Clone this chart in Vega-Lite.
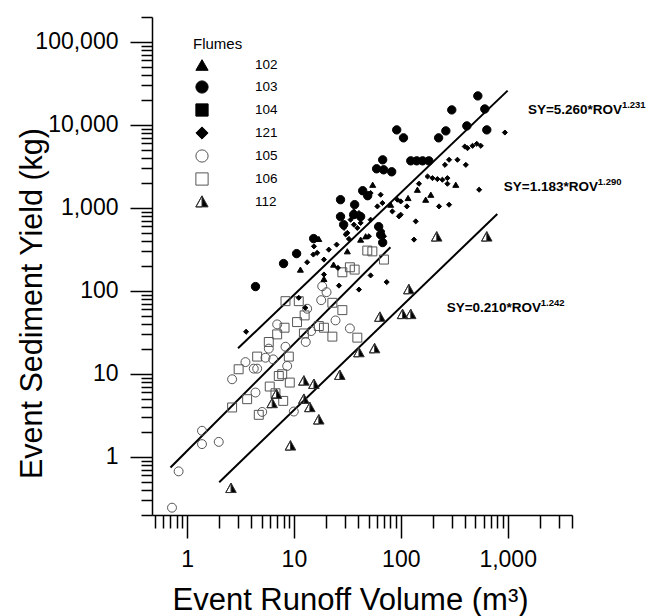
{
  "$schema": "https://vega.github.io/schema/vega-lite/v6.json",
  "width": 420,
  "height": 498,
  "autosize": {"type": "none"},
  "padding": {"left": 152, "top": 17, "right": 90, "bottom": 101},
  "background": "white",
  "config": {
    "view": {"stroke": null},
    "font": "Liberation Sans",
    "axis": {
      "grid": false,
      "domainColor": "black",
      "domainWidth": 1.5,
      "tickColor": "black",
      "tickWidth": 1.5,
      "labelFont": "Liberation Sans",
      "labelFontSize": 23,
      "labelColor": "black",
      "titleFont": "Liberation Sans",
      "titleFontSize": 30.5,
      "titleFontWeight": "normal",
      "titleColor": "black",
      "labelOverlap": false,
      "labelFlush": false,
      "labelBound": false
    },
    "legend": {
      "titleFont": "Liberation Sans", "titleFontSize": 15, "titleFontWeight": "normal", "titleColor": "black",
      "labelFont": "Liberation Sans", "labelFontSize": 13.5, "labelColor": "black",
      "symbolSize": 150, "symbolStrokeWidth": 1
    }
  },
  "resolve": {"axis": {"x": "independent", "y": "independent"}},
  "datasets": {
    "pts": [
      {"flume": "103", "x": 4.37, "y": 113}, {"flume": "103", "x": 8.0, "y": 214}, {"flume": "103", "x": 10.6, "y": 282},
      {"flume": "103", "x": 15.3, "y": 428}, {"flume": "103", "x": 27.3, "y": 787}, {"flume": "103", "x": 29.2, "y": 630},
      {"flume": "103", "x": 36.2, "y": 830}, {"flume": "103", "x": 42.1, "y": 787}, {"flume": "103", "x": 37.0, "y": 1097},
      {"flume": "103", "x": 27.3, "y": 1259}, {"flume": "103", "x": 44.0, "y": 1615}, {"flume": "103", "x": 49.0, "y": 1406},
      {"flume": "103", "x": 59.4, "y": 2966}, {"flume": "103", "x": 69.1, "y": 2884}, {"flume": "103", "x": 82.2, "y": 2729},
      {"flume": "103", "x": 67.7, "y": 3805}, {"flume": "103", "x": 124, "y": 3700}, {"flume": "103", "x": 141, "y": 3700},
      {"flume": "103", "x": 160, "y": 3700}, {"flume": "103", "x": 183, "y": 3700}, {"flume": "103", "x": 91.6, "y": 8730},
      {"flume": "103", "x": 106, "y": 7000}, {"flume": "103", "x": 226, "y": 7000}, {"flume": "103", "x": 264, "y": 8490},
      {"flume": "103", "x": 300, "y": 15200}, {"flume": "103", "x": 415, "y": 9750}, {"flume": "103", "x": 526, "y": 22400},
      {"flume": "103", "x": 611, "y": 15600}, {"flume": "103", "x": 638, "y": 8730}, {"flume": "103", "x": 62.1, "y": 596},
      {"flume": "103", "x": 64.8, "y": 477}, {"flume": "103", "x": 67.7, "y": 383},
      {"flume": "121", "x": 942, "y": 8110}, {"flume": "121", "x": 397, "y": 5500}, {"flume": "121", "x": 421, "y": 5260},
      {"flume": "121", "x": 469, "y": 5610}, {"flume": "121", "x": 514, "y": 5930}, {"flume": "121", "x": 561, "y": 5610},
      {"flume": "121", "x": 283, "y": 3810}, {"flume": "121", "x": 339, "y": 3810}, {"flume": "121", "x": 259, "y": 3310},
      {"flume": "121", "x": 406, "y": 3310}, {"flume": "121", "x": 178, "y": 2400}, {"flume": "121", "x": 198, "y": 2290},
      {"flume": "121", "x": 220, "y": 2230}, {"flume": "121", "x": 245, "y": 2190}, {"flume": "121", "x": 273, "y": 2290},
      {"flume": "121", "x": 273, "y": 1960}, {"flume": "121", "x": 148, "y": 1960}, {"flume": "121", "x": 541, "y": 1660},
      {"flume": "121", "x": 283, "y": 1096}, {"flume": "121", "x": 138, "y": 690}, {"flume": "121", "x": 133, "y": 416},
      {"flume": "121", "x": 92.9, "y": 1259}, {"flume": "121", "x": 99.8, "y": 1200}, {"flume": "121", "x": 83.4, "y": 910},
      {"flume": "121", "x": 99.8, "y": 830}, {"flume": "121", "x": 96.2, "y": 793}, {"flume": "121", "x": 114, "y": 1045},
      {"flume": "121", "x": 52.2, "y": 1514}, {"flume": "121", "x": 64.8, "y": 1445}, {"flume": "121", "x": 60.4, "y": 1045},
      {"flume": "121", "x": 67.3, "y": 1148}, {"flume": "121", "x": 40.6, "y": 871}, {"flume": "121", "x": 42.1, "y": 661},
      {"flume": "121", "x": 33.9, "y": 723}, {"flume": "121", "x": 36.4, "y": 630}, {"flume": "121", "x": 39.2, "y": 575},
      {"flume": "121", "x": 29.4, "y": 575}, {"flume": "121", "x": 31.6, "y": 501}, {"flume": "121", "x": 25.1, "y": 362},
      {"flume": "121", "x": 21.2, "y": 315}, {"flume": "121", "x": 19.1, "y": 239}, {"flume": "121", "x": 16.5, "y": 288},
      {"flume": "121", "x": 13.3, "y": 222}, {"flume": "121", "x": 62.5, "y": 575}, {"flume": "121", "x": 67.3, "y": 523},
      {"flume": "121", "x": 69.6, "y": 456}, {"flume": "121", "x": 50.3, "y": 456}, {"flume": "121", "x": 228, "y": 1045},
      {"flume": "121", "x": 36.4, "y": 910}, {"flume": "121", "x": 52.2, "y": 723}, {"flume": "121", "x": 60.4, "y": 601},
      {"flume": "121", "x": 30.5, "y": 480}, {"flume": "121", "x": 32.7, "y": 424}, {"flume": "121", "x": 15.4, "y": 345},
      {"flume": "121", "x": 15.2, "y": 275}, {"flume": "121", "x": 25.8, "y": 190}, {"flume": "121", "x": 19.1, "y": 158},
      {"flume": "121", "x": 26.4, "y": 116}, {"flume": "121", "x": 40.6, "y": 104}, {"flume": "121", "x": 52.2, "y": 154},
      {"flume": "121", "x": 73.8, "y": 128}, {"flume": "121", "x": 3.57, "y": 32.3}, {"flume": "121", "x": 11.1, "y": 82.8},
      {"flume": "121", "x": 12.8, "y": 62.8},
      {"flume": "102", "x": 143, "y": 1660}, {"flume": "102", "x": 171, "y": 1259}, {"flume": "102", "x": 117, "y": 1319},
      {"flume": "102", "x": 31.6, "y": 301}, {"flume": "102", "x": 46.9, "y": 456}, {"flume": "102", "x": 17.1, "y": 424},
      {"flume": "102", "x": 19.1, "y": 140}, {"flume": "102", "x": 54.6, "y": 1905}, {"flume": "102", "x": 80.4, "y": 1096},
      {"flume": "102", "x": 23.5, "y": 208}, {"flume": "102", "x": 42.1, "y": 416}, {"flume": "102", "x": 11.5, "y": 181},
      {"flume": "102", "x": 191, "y": 1445}, {"flume": "102", "x": 327, "y": 1905},
      {"flume": "105", "x": 18.4, "y": 114}, {"flume": "105", "x": 20.2, "y": 96.8}, {"flume": "105", "x": 18.0, "y": 77.5},
      {"flume": "105", "x": 13.3, "y": 61.1}, {"flume": "105", "x": 6.97, "y": 39.6}, {"flume": "105", "x": 5.82, "y": 20.2},
      {"flume": "105", "x": 8.34, "y": 21.3}, {"flume": "105", "x": 3.52, "y": 13.9}, {"flume": "105", "x": 4.21, "y": 11.6},
      {"flume": "105", "x": 4.53, "y": 11.6}, {"flume": "105", "x": 2.64, "y": 8.64}, {"flume": "105", "x": 8.65, "y": 12.5},
      {"flume": "105", "x": 4.37, "y": 5.98}, {"flume": "105", "x": 5.05, "y": 3.49}, {"flume": "105", "x": 9.98, "y": 3.53},
      {"flume": "105", "x": 1.38, "y": 2.07}, {"flume": "105", "x": 1.38, "y": 1.43}, {"flume": "105", "x": 1.98, "y": 1.52},
      {"flume": "105", "x": 12.9, "y": 24.3}, {"flume": "105", "x": 14.5, "y": 32.9}, {"flume": "105", "x": 24.5, "y": 44.2},
      {"flume": "105", "x": 33.4, "y": 35.4}, {"flume": "105", "x": 6.4, "y": 15.0}, {"flume": "105", "x": 0.834, "y": 0.671},
      {"flume": "105", "x": 0.723, "y": 0.245}, {"flume": "105", "x": 5.42, "y": 15.7},
      {"flume": "106", "x": 8.34, "y": 75.4}, {"flume": "106", "x": 11.1, "y": 75.4}, {"flume": "106", "x": 12.6, "y": 50.8},
      {"flume": "106", "x": 10.7, "y": 42.2}, {"flume": "106", "x": 8.17, "y": 36.1}, {"flume": "106", "x": 6.97, "y": 30.0},
      {"flume": "106", "x": 5.82, "y": 24.3}, {"flume": "106", "x": 4.53, "y": 16.2}, {"flume": "106", "x": 3.04, "y": 11.4},
      {"flume": "106", "x": 8.96, "y": 16.2}, {"flume": "106", "x": 7.22, "y": 9.46}, {"flume": "106", "x": 7.77, "y": 9.92},
      {"flume": "106", "x": 9.15, "y": 7.88}, {"flume": "106", "x": 5.94, "y": 7.06}, {"flume": "106", "x": 6.72, "y": 5.86},
      {"flume": "106", "x": 7.94, "y": 4.74}, {"flume": "106", "x": 2.64, "y": 3.95}, {"flume": "106", "x": 4.69, "y": 3.22},
      {"flume": "106", "x": 19.1, "y": 36.1}, {"flume": "106", "x": 22.9, "y": 28.2}, {"flume": "106", "x": 22.9, "y": 72.1},
      {"flume": "106", "x": 28.4, "y": 58.8}, {"flume": "106", "x": 39.2, "y": 27.4}, {"flume": "106", "x": 33.4, "y": 193},
      {"flume": "106", "x": 37.0, "y": 181}, {"flume": "106", "x": 28.4, "y": 168}, {"flume": "106", "x": 48.6, "y": 307},
      {"flume": "106", "x": 69.6, "y": 239}, {"flume": "106", "x": 12.4, "y": 30.8}, {"flume": "106", "x": 17.1, "y": 37.8},
      {"flume": "106", "x": 54.2, "y": 300}, {"flume": "106", "x": 3.65, "y": 4.97},
      {"flume": "112", "x": 63.8, "y": 48.4}, {"flume": "112", "x": 104, "y": 52.2}, {"flume": "112", "x": 124, "y": 52.2},
      {"flume": "112", "x": 56.9, "y": 20.2}, {"flume": "112", "x": 40.6, "y": 18.1}, {"flume": "112", "x": 26.9, "y": 9.65},
      {"flume": "112", "x": 15.4, "y": 7.52}, {"flume": "112", "x": 12.4, "y": 8.24}, {"flume": "112", "x": 6.87, "y": 5.7},
      {"flume": "112", "x": 6.26, "y": 4.41}, {"flume": "112", "x": 12.4, "y": 4.97}, {"flume": "112", "x": 14.1, "y": 3.95},
      {"flume": "112", "x": 17.1, "y": 2.8}, {"flume": "112", "x": 9.29, "y": 1.36}, {"flume": "112", "x": 2.58, "y": 0.419},
      {"flume": "112", "x": 217, "y": 448}, {"flume": "112", "x": 638, "y": 448}, {"flume": "112", "x": 119, "y": 104}
    ],
    "lines": [
      {"line": "a", "x": 3, "y": 20.4}, {"line": "a", "x": 1000, "y": 25940},
      {"line": "b", "x": 0.7, "y": 0.746}, {"line": "b", "x": 80, "y": 337},
      {"line": "c", "x": 2, "y": 0.497}, {"line": "c", "x": 800, "y": 847}
    ],
    "eqs": [
      {"x": 1546, "y": 15200, "eq": "SY=5.260*ROV", "sup": "1.231"},
      {"x": 921, "y": 1803, "eq": "SY=1.183*ROV", "sup": "1.290"},
      {"x": 269, "y": 61.6, "eq": "SY=0.210*ROV", "sup": "1.242"}
    ]
  },
  "layer": [
    {
      "data": {"name": "lines"},
      "mark": {"type": "line", "color": "black", "strokeWidth": 2},
      "encoding": {
        "x": {
          "field": "x", "type": "quantitative",
          "scale": {"type": "log", "domain": [0.47, 4000], "nice": false, "zero": false},
          "axis": {
            "orient": "bottom",
            "title": "Event Runoff Volume (m³)",
            "titleFontSize": 31,
            "values": [1, 10, 100, 1000],
            "format": ",",
            "tickSize": 23,
            "labelPadding": 10,
            "titleX": 198,
            "titleY": 94,
            "titleAlign": "center",
            "titleBaseline": "alphabetic"
          }
        },
        "y": {
          "field": "y", "type": "quantitative",
          "scale": {"type": "log", "domain": [0.2, 200000], "nice": false, "zero": false},
          "axis": {
            "orient": "left",
            "title": "Event Sediment Yield (kg)",
            "values": [1, 10, 100, 1000, 10000, 100000],
            "format": ",",
            "tickSize": 22,
            "labelPadding": 12,
            "titleAngle": 270,
            "titleX": -111,
            "titleY": 286,
            "titleAlign": "center",
            "titleBaseline": "alphabetic"
          }
        },
        "detail": {"field": "line", "type": "nominal"}
      }
    },
    {
      "data": {"name": "pts"},
      "transform": [{"filter": {"field": "flume", "oneOf": ["105", "106"]}}],
      "mark": {"type": "point", "opacity": 1, "strokeWidth": 1, "size": 80},
      "encoding": {
        "x": {
          "field": "x", "type": "quantitative",
          "axis": {
            "orient": "bottom",
            "title": null,
            "labels": false,
            "domain": false,
            "values": [0.5,0.6,0.7,0.8,0.9,2,3,4,5,6,7,8,9,20,30,40,50,60,70,80,90,200,300,400,500,600,700,800,900,2000,3000,4000],
            "tickSize": 13
          }
        },
        "y": {
          "field": "y", "type": "quantitative",
          "axis": {
            "orient": "left",
            "title": null,
            "labels": false,
            "domain": false,
            "values": [0.2,0.3,0.4,0.5,0.6,0.7,0.8,0.9,2,3,4,5,6,7,8,9,20,30,40,50,60,70,80,90,200,300,400,500,600,700,800,900,2000,3000,4000,5000,6000,7000,8000,9000,20000,30000,40000,50000,60000,70000,80000,90000,200000],
            "tickSize": 11
          }
        },
        "shape": {
          "field": "flume", "type": "nominal", "title": "Flumes",
          "scale": {
            "domain": ["102", "103", "104", "121", "105", "106", "112"],
            "range": ["triangle-up", "circle", "square", "diamond", "circle", "square", "M0,-1L1,0.8L-1,0.8Z M0,-1L-1,0.8L0,0.8Z"]
          },
          "legend": {
            "orient": "none", "legendX": 41, "legendY": 20, "padding": 0,
            "titlePadding": 6, "symbolOffset": 2, "labelOffset": 46, "rowPadding": 5
          }
        },
        "fill": {
          "field": "flume", "type": "nominal", "title": "Flumes",
          "scale": {
            "domain": ["102", "103", "104", "121", "105", "106", "112"],
            "range": ["black", "black", "black", "black", "transparent", "transparent", "black"]
          }
        },
        "stroke": {
          "field": "flume", "type": "nominal", "title": "Flumes",
          "scale": {
            "domain": ["102", "103", "104", "121", "105", "106", "112"],
            "range": ["black", "black", "black", "black", "#555555", "#555555", "#333333"]
          }
        }
      }
    },
    {
      "data": {"name": "pts"},
      "transform": [{"filter": {"field": "flume", "oneOf": ["112"]}}],
      "mark": {"type": "point", "opacity": 1, "strokeWidth": 1, "size": 110},
      "encoding": {
        "x": {"field": "x", "type": "quantitative", "axis": null},
        "y": {"field": "y", "type": "quantitative", "axis": null},
        "shape": {"field": "flume", "type": "nominal", "title": "Flumes"},
        "fill": {"field": "flume", "type": "nominal", "title": "Flumes"},
        "stroke": {"field": "flume", "type": "nominal", "title": "Flumes"}
      }
    },
    {
      "data": {"name": "pts"},
      "transform": [{"filter": {"field": "flume", "oneOf": ["103", "104"]}}],
      "mark": {"type": "point", "opacity": 1, "strokeWidth": 1, "size": 70},
      "encoding": {
        "x": {"field": "x", "type": "quantitative", "axis": null},
        "y": {"field": "y", "type": "quantitative", "axis": null},
        "shape": {"field": "flume", "type": "nominal", "title": "Flumes"},
        "fill": {"field": "flume", "type": "nominal", "title": "Flumes"},
        "stroke": {"field": "flume", "type": "nominal", "title": "Flumes"}
      }
    },
    {
      "data": {"name": "pts"},
      "transform": [{"filter": {"field": "flume", "oneOf": ["121"]}}],
      "mark": {"type": "point", "opacity": 1, "strokeWidth": 1, "size": 26},
      "encoding": {
        "x": {"field": "x", "type": "quantitative", "axis": null},
        "y": {"field": "y", "type": "quantitative", "axis": null},
        "shape": {"field": "flume", "type": "nominal", "title": "Flumes"},
        "fill": {"field": "flume", "type": "nominal", "title": "Flumes"},
        "stroke": {"field": "flume", "type": "nominal", "title": "Flumes"}
      }
    },
    {
      "data": {"name": "pts"},
      "transform": [{"filter": {"field": "flume", "oneOf": ["102"]}}],
      "mark": {"type": "point", "opacity": 1, "strokeWidth": 1, "size": 36},
      "encoding": {
        "x": {"field": "x", "type": "quantitative", "axis": null},
        "y": {"field": "y", "type": "quantitative", "axis": null},
        "shape": {"field": "flume", "type": "nominal", "title": "Flumes"},
        "fill": {"field": "flume", "type": "nominal", "title": "Flumes"},
        "stroke": {"field": "flume", "type": "nominal", "title": "Flumes"}
      }
    },
    {
      "data": {"name": "eqs"},
      "mark": {"type": "text", "align": "left", "baseline": "middle", "font": "Liberation Sans", "fontWeight": "bold", "fontSize": 13.5, "color": "black"},
      "encoding": {
        "x": {"field": "x", "type": "quantitative", "axis": null},
        "y": {"field": "y", "type": "quantitative", "axis": null},
        "text": {"field": "eq"}
      }
    },
    {
      "data": {"name": "eqs"},
      "mark": {"type": "text", "align": "left", "baseline": "middle", "dx": 94, "dy": -5, "font": "Liberation Sans", "fontWeight": "bold", "fontSize": 9.5, "color": "black"},
      "encoding": {
        "x": {"field": "x", "type": "quantitative", "axis": null},
        "y": {"field": "y", "type": "quantitative", "axis": null},
        "text": {"field": "sup"}
      }
    }
  ]
}
